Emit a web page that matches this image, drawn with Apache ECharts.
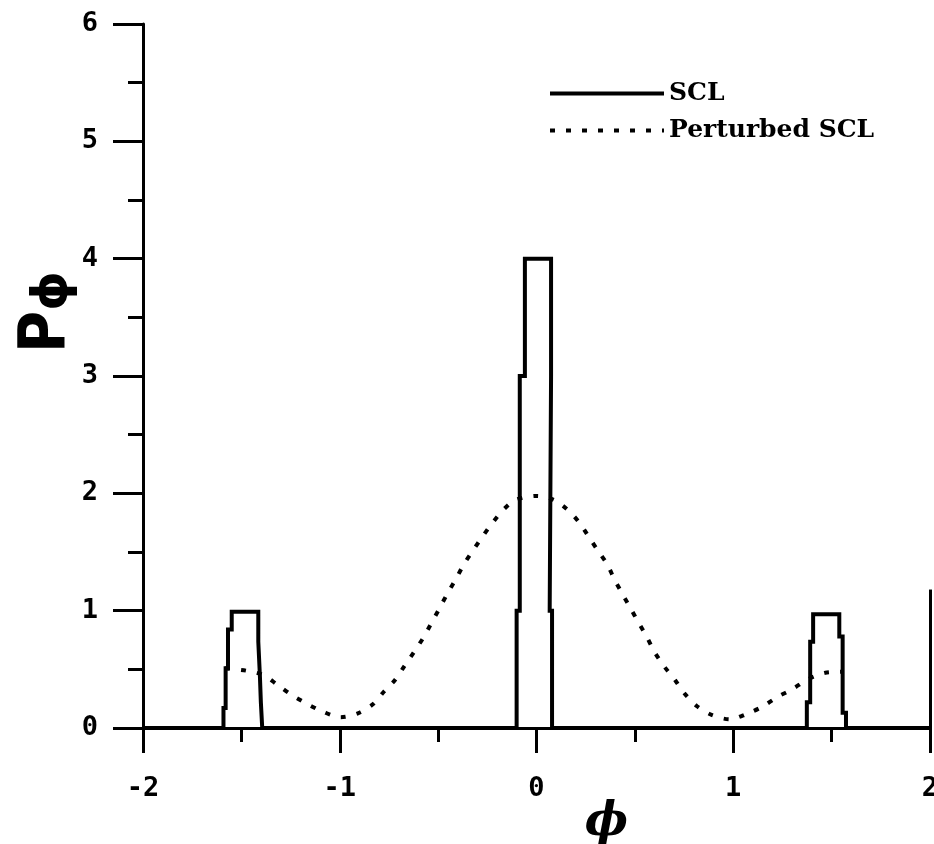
<!DOCTYPE html>
<html>
<head>
<meta charset="utf-8">
<script src="https://cdn.jsdelivr.net/npm/echarts@6/dist/echarts.min.js"></script>
<style>
  html, body { margin: 0; padding: 0; background: #fff; }
  #chart { width: 934px; height: 844px; }
</style>
</head>
<body>
<div id="chart"></div>
<script>
// ---- data ----
const xTicks = [-2, -1, 0, 1, 2];
const yTicks = [0, 1, 2, 3, 4, 5, 6];

// SCL: stepped outline. Each edge x with the level reached after that edge.
const sclStartX = -2;
const sclEndX = 2;
const sclEdgeX = [-1.591, -1.580, -1.568, -1.549, -1.414, -1.406, -1.401, -1.394,
                  -0.101, -0.085, -0.059, 0.074, 0.067, 0.079,
                  1.374, 1.391, 1.406, 1.539, 1.556, 1.573];
const sclLevel = [0.17, 0.51, 0.84, 0.99, 0.735, 0.45, 0.22, 0,
                  1, 3, 4, 3, 1, 0,
                  0.22, 0.735, 0.97, 0.78, 0.13, 0];

// Perturbed SCL (dotted curve)
const pertX = [-1.583, -1.477, -1.389, -1.316, -1.249, -1.165, -1.085, -0.996,
               -0.908, -0.832, -0.776, -0.719, -0.668, -0.618, -0.574, -0.533,
               -0.493, -0.452, -0.410, -0.368, -0.321, -0.275, -0.219, -0.166,
               -0.106, 0.003, 0.088, 0.155, 0.214, 0.265, 0.312, 0.361, 0.395,
               0.435, 0.476, 0.518, 0.560, 0.599, 0.650, 0.704, 0.749, 0.814,
               0.890, 0.982, 1.067, 1.148, 1.227, 1.300, 1.379, 1.468, 1.553];
const pertY = [0.509, 0.489, 0.452, 0.367, 0.287, 0.205, 0.139, 0.091,
               0.125, 0.202, 0.309, 0.409, 0.537, 0.659, 0.773, 0.898,
               1.020, 1.148, 1.270, 1.398, 1.517, 1.631, 1.759, 1.864,
               1.944, 1.978, 1.944, 1.864, 1.759, 1.631, 1.512, 1.390, 1.270,
               1.148, 1.026, 0.901, 0.778, 0.650, 0.523, 0.409, 0.301, 0.188,
               0.111, 0.074, 0.119, 0.182, 0.267, 0.330, 0.415, 0.471, 0.480];

const seriesNames = ['SCL', 'Perturbed SCL'];

// ---- build series data ----
const sclData = [[sclStartX, 0]];
let prev = 0;
for (let i = 0; i < sclEdgeX.length; i++) {
  sclData.push([sclEdgeX[i], prev]);
  sclData.push([sclEdgeX[i], sclLevel[i]]);
  prev = sclLevel[i];
}
sclData.push([sclEndX, prev]);
const pertData = pertX.map((x, i) => [x, pertY[i]]);

const tickFont = {
  fontFamily: 'DejaVu Sans Mono',
  fontWeight: 'bold',
  fontSize: 27,
  color: '#000'
};
const axisLineStyle = { color: '#000', width: 3 };

const chart = echarts.init(document.getElementById('chart'), null, { renderer: 'canvas' });
chart.setOption({
  backgroundColor: '#fff',
  animation: false,
  grid: {
    left: 143, right: 4, top: 24, bottom: 116,
    containLabel: false,
    outerBoundsMode: 'none'
  },
  legend: {
    orient: 'vertical',
    left: 543,
    top: 76,
    itemWidth: 114,
    itemHeight: 14,
    itemGap: 12,
    itemStyle: { opacity: 0 },
    lineStyle: { width: 4, color: '#000' },
    textStyle: {
      fontFamily: 'DejaVu Serif',
      fontWeight: 'bold',
      fontSize: 25,
      color: '#000'
    },
    data: [seriesNames[0], seriesNames[1]]
  },
  xAxis: {
    type: 'value',
    min: xTicks[0],
    max: xTicks[xTicks.length - 1],
    interval: 1,
    name: 'ϕ',
    nameLocation: 'middle',
    nameGap: 72,
    nameMoveOverlap: false,
    nameTextStyle: {
      fontFamily: 'DejaVu Serif',
      fontStyle: 'italic',
      fontWeight: 'bold',
      fontSize: 46,
      color: '#000',
      padding: [0, 0, 0, 140]
    },
    axisLine: { show: true, onZero: false, lineStyle: axisLineStyle },
    axisTick: { show: true, length: 25, lineStyle: axisLineStyle },
    minorTick: { show: true, splitNumber: 2, length: 14, lineStyle: axisLineStyle },
    splitLine: { show: false },
    axisLabel: Object.assign({ margin: 47 }, tickFont)
  },
  yAxis: {
    type: 'value',
    min: yTicks[0],
    max: yTicks[yTicks.length - 1],
    interval: 1,
    name: '{p|P}{s|ϕ}',
    nameLocation: 'middle',
    nameRotate: 90,
    nameGap: 64,
    nameMoveOverlap: false,
    nameTextStyle: {
      padding: [0, 0, 0, 128],
      rich: {
        p: {
          fontFamily: "'Liberation Sans Narrow', 'DejaVu Sans Condensed', 'Liberation Sans', sans-serif",
          fontWeight: 'bold',
          fontSize: 64,
          lineHeight: 64,
          verticalAlign: 'top',
          color: '#000'
        },
        s: {
          fontFamily: 'DejaVu Sans',
          fontWeight: 'bold',
          fontSize: 50,
          lineHeight: 50,
          padding: [58, 0, 0, 0],
          verticalAlign: 'bottom',
          color: '#000'
        }
      }
    },
    axisLine: { show: true, onZero: false, lineStyle: axisLineStyle },
    axisTick: { show: true, length: 30, lineStyle: axisLineStyle },
    minorTick: { show: true, splitNumber: 2, length: 15, lineStyle: axisLineStyle },
    splitLine: { show: false },
    axisLabel: Object.assign({ margin: 45 }, tickFont)
  },
  series: [
    {
      name: seriesNames[0],
      type: 'line',
      data: sclData,
      symbol: 'none',
      smooth: false,
      clip: false,
      itemStyle: { color: '#000' },
      lineStyle: { color: '#000', width: 4, type: 'solid', join: 'miter' },
      z: 3,
      markLine: {
        silent: true,
        symbol: ['none', 'none'],
        label: { show: false },
        lineStyle: { color: '#000', width: 3, type: 'solid' },
        data: [[{ coord: [2, 0] }, { coord: [2, 1.18] }]]
      }
    },
    {
      name: seriesNames[1],
      type: 'line',
      data: pertData,
      symbol: 'none',
      smooth: 0.3,
      clip: false,
      itemStyle: { color: '#000' },
      lineStyle: { color: '#000', width: 4, type: [5, 11], cap: 'butt' },
      z: 2
    }
  ]
});
</script>
</body>
</html>
